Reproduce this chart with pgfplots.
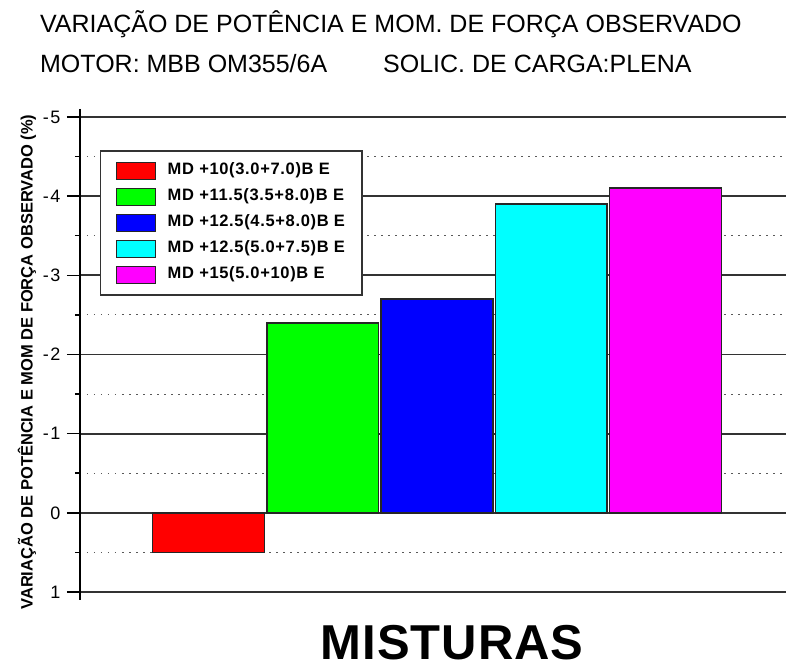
\documentclass[border=0pt]{standalone}
\usepackage{fontspec}
\setmainfont{Liberation Sans}
\usepackage{pgfplots}
\pgfplotsset{compat=1.18}
\definecolor{cRed}{RGB}{255,0,0}
\definecolor{cGreen}{RGB}{0,255,0}
\definecolor{cBlue}{RGB}{0,0,255}
\definecolor{cCyan}{RGB}{0,255,255}
\definecolor{cMagenta}{RGB}{255,0,255}
\pgfplotsset{
  mybar/.style={ybar, bar width=0.98, bar shift=0pt, draw=black!85, line width=1.5pt,
    legend image code/.code={\draw[##1, line width=1pt] (0pt,-8.5pt) rectangle (39pt,8.5pt);}},
}
\begin{document}
\begin{tikzpicture}
\begin{axis}[
  name=ax,
  scale only axis, width=706pt, height=475pt,
  xmin=-0.125, xmax=6.055,
  ymin=-5, ymax=1, y dir=reverse,
  clip=false,
  axis lines*=left,
  x axis line style={draw=none},
  xtick=\empty,
  ytick={-5,-4,-3,-2,-1,0,1},
  yticklabels={-\kern1.5pt5,-\kern1.5pt4,-\kern1.5pt3,-\kern1.5pt2,-\kern1.5pt1,0,1},
  minor ytick={-4.5,-3.5,-2.5,-1.5,-0.5,0.5},
  ymajorgrids, yminorgrids,
  major grid style={black!80, line width=1.8pt},
  minor grid style={black!65, line width=1pt, dash pattern=on 1.5pt off 5.5pt},
  tick align=outside,
  major tick length=13pt, minor tick length=5pt,
  tick style={black, line width=1.5pt},
  y axis line style={black, line width=1.5pt, shorten <=-8pt, shorten >=-8pt},
  yticklabel style={font=\fontsize{18}{20}\selectfont, xshift=-3pt},
  xlabel={MISTURAS},
  xlabel style={at={(axis description cs:0.527,-0.1425)}, anchor=base, inner sep=0pt,
    font=\bfseries\fontsize{49}{56}\selectfont\addfontfeature{LetterSpace=2}},
  ylabel={VARIAÇÃO DE POTÊNCIA E MOM DE FORÇA OBSERVADO (\%)},
  ylabel style={at={(axis description cs:-0.075,0.484)}, anchor=center, inner sep=0pt,
    font=\bfseries\fontsize{16.5}{18}\selectfont},
  legend style={
    at={(axis description cs:0.0283,0.9305)}, anchor=north west,
    draw=black!80, line width=1.5pt,
    font=\bfseries\fontsize{16.5}{19}\selectfont\addfontfeature{LetterSpace=4},
    inner xsep=15pt, inner ysep=11pt,
    row sep=8pt,
    nodes={inner sep=2pt, text height=11pt, text depth=3pt},
    /tikz/every odd column/.append style={column sep=10pt},
    /tikz/every even column/.append style={column sep=4pt},
  },
  legend cell align=left,
]
\addplot[mybar, fill=cRed] coordinates {(1,0.5)};
\addplot[mybar, fill=cGreen] coordinates {(2,-2.4)};
\addplot[mybar, fill=cBlue] coordinates {(3,-2.7)};
\addplot[mybar, fill=cCyan] coordinates {(4,-3.9)};
\addplot[mybar, fill=cMagenta] coordinates {(5,-4.1)};
\legend{MD +10(3.0+7.0)B E, MD +11.5(3.5+8.0)B E, MD +12.5(4.5+8.0)B E, MD +12.5(5.0+7.5)B E, MD +15(5.0+10)B E}
\node[anchor=base west, inner sep=0pt, font=\fontsize{25}{30}\selectfont] at (axis description cs:-0.0567,1.1789) {VARIAÇÃO DE POTÊNCIA E MOM. DE FORÇA OBSERVADO};
\node[anchor=base west, inner sep=0pt, font=\fontsize{25}{30}\selectfont] at (axis description cs:-0.0567,1.0947) {MOTOR: MBB OM355/6A};
\node[anchor=base west, inner sep=0pt, font=\fontsize{25}{30}\selectfont] at (axis description cs:0.4292,1.0947) {SOLIC. DE CARGA:PLENA};
\end{axis}
\pgfresetboundingbox
\path[use as bounding box] ([xshift=-80pt,yshift=-77pt]ax.south west) rectangle ([yshift=117pt]ax.north east);
\end{tikzpicture}
\end{document}
